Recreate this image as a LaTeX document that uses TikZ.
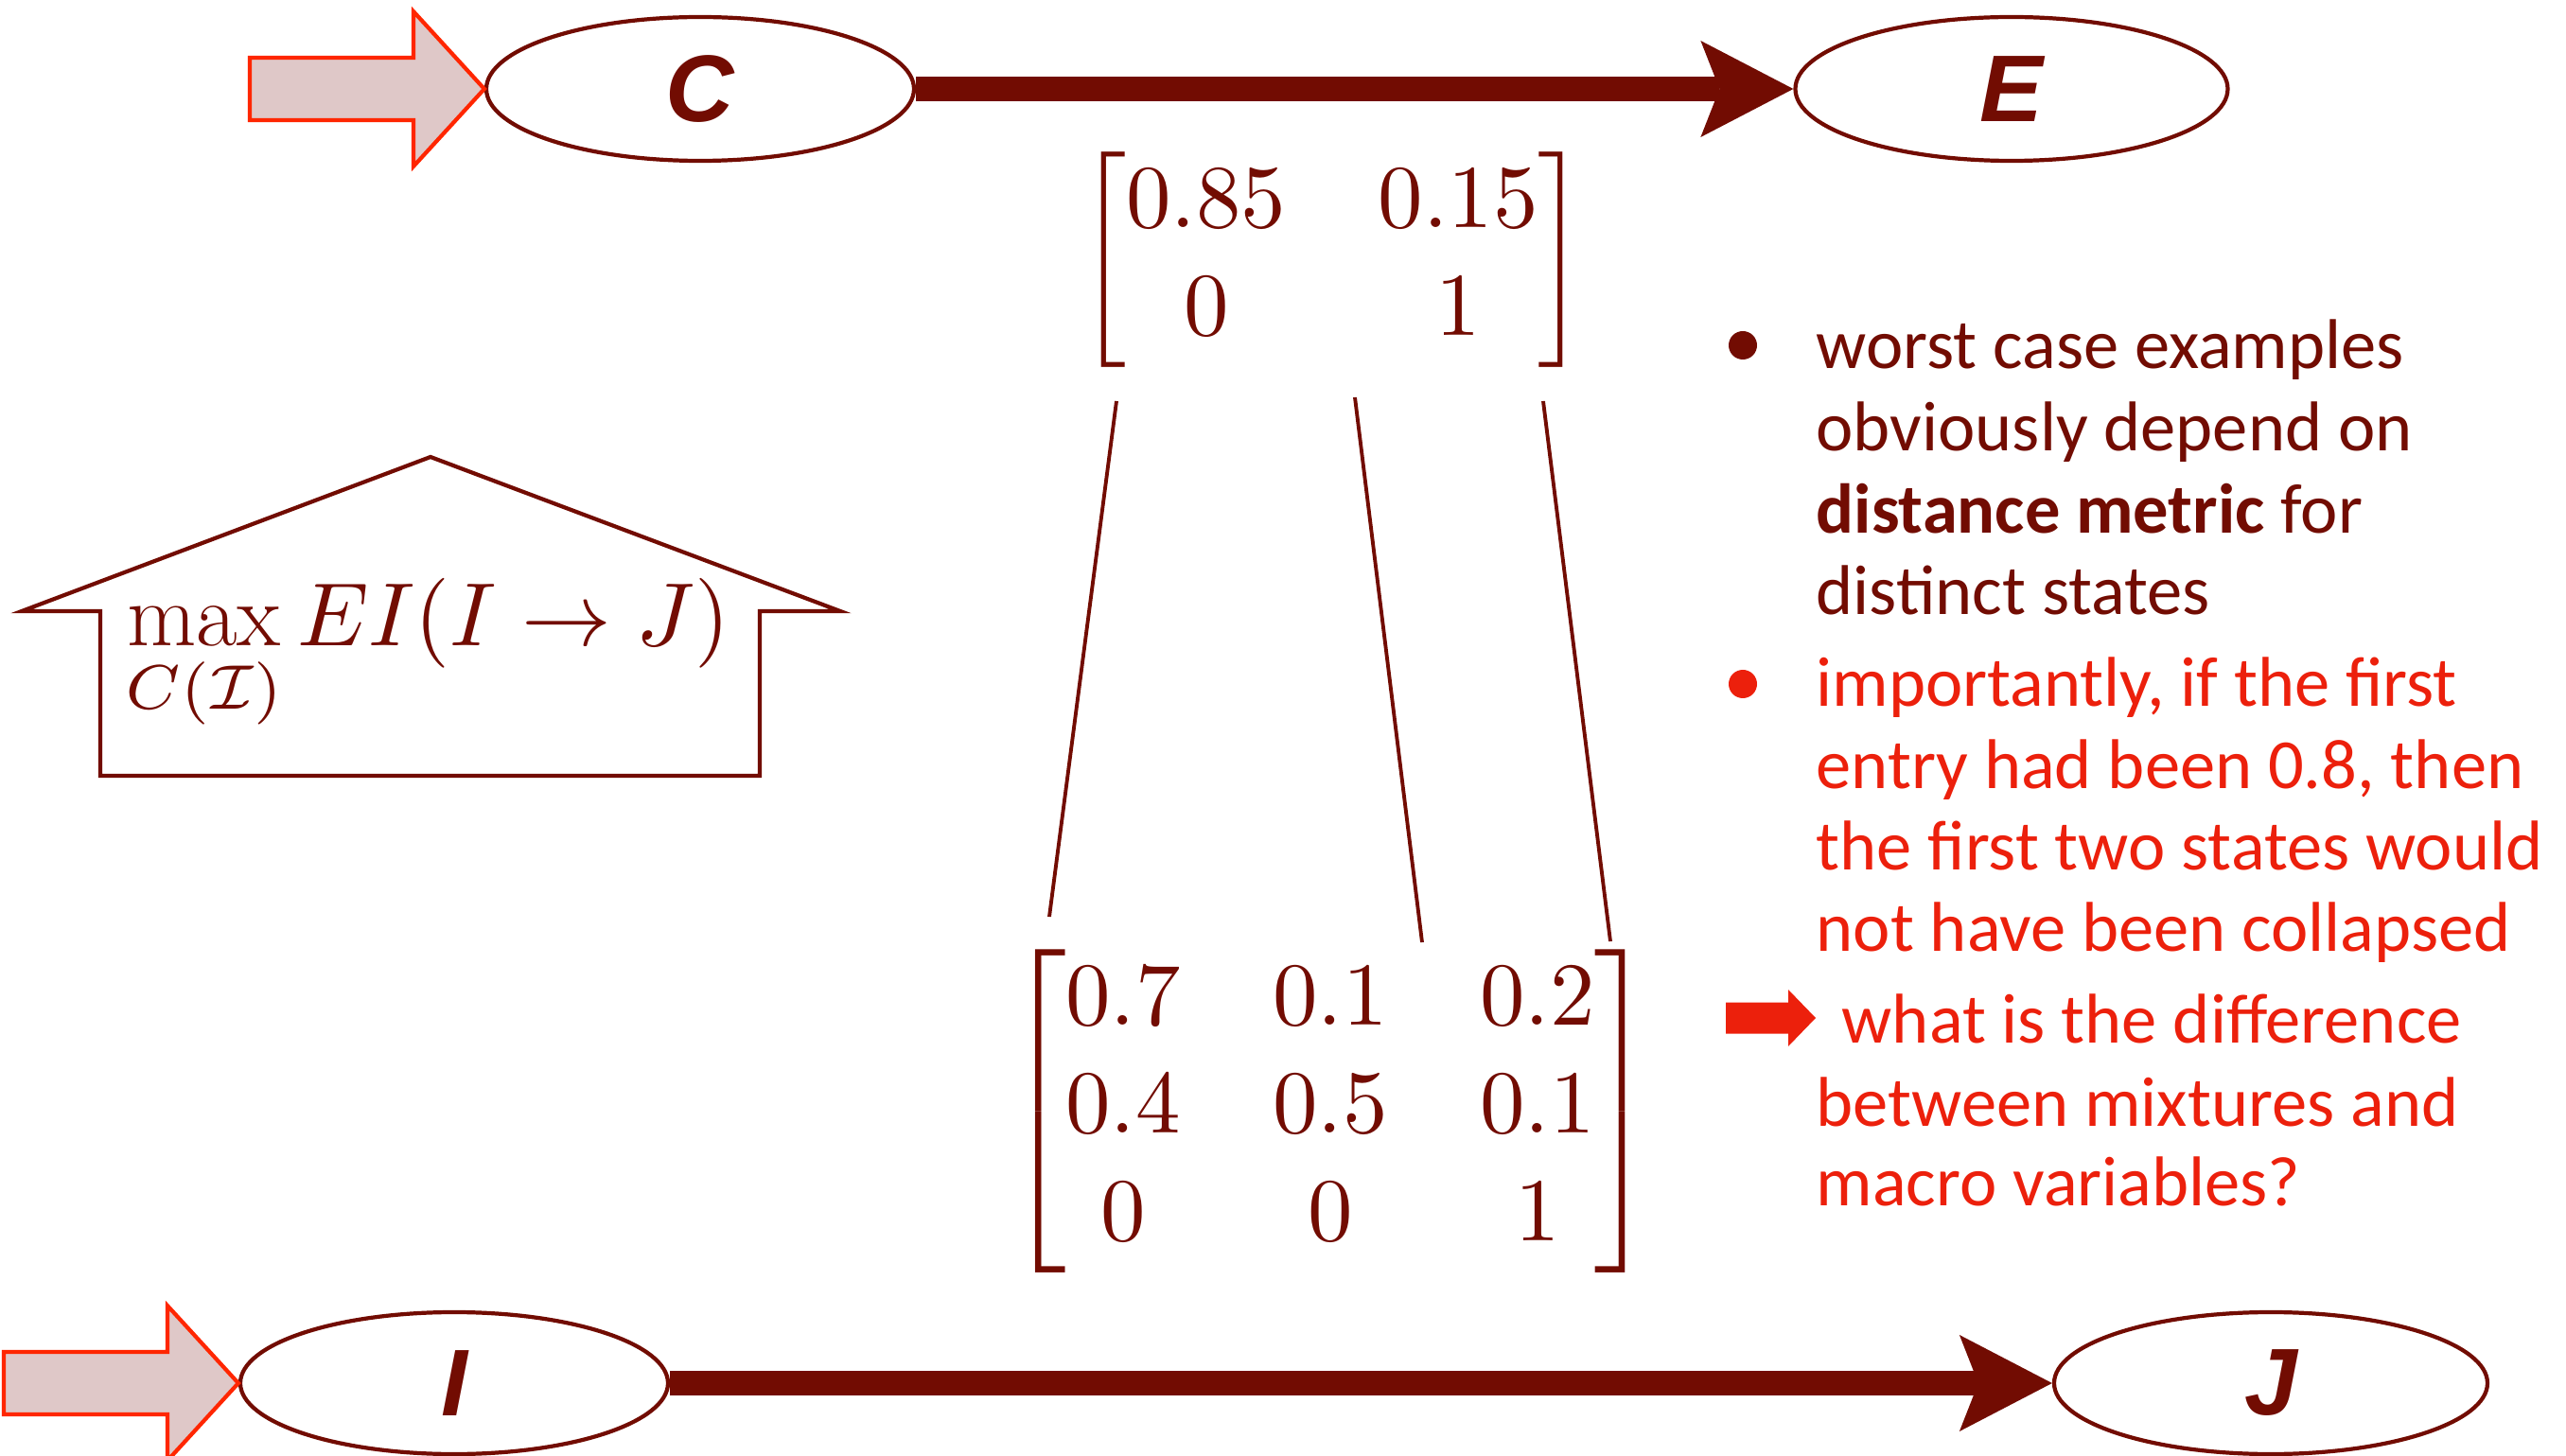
\documentclass[tikz,border=0pt]{standalone}
\usepackage{amsmath,amssymb}
\usepackage{fontspec}
\DeclareFontShape{OT1}{cmr}{m}{n}{<-20> cmr7 <20-> cmr10}{}
\DeclareFontShape{OML}{cmm}{m}{it}{<-20> cmmi7 <20-> cmmi10}{}
\DeclareFontShape{OMS}{cmsy}{m}{n}{<-20> cmsy7 <20-> cmsy10}{}
\DeclareFontShape{OMX}{cmex}{m}{n}{<-> cmex10}{}
\newfontfamily\bodyfont{Carlito}
\newfontfamily\statefont{Liberation Sans}
\usepackage{tikz}
\usetikzlibrary{positioning,arrows.meta,shapes.geometric}
\definecolor{slidered}{RGB}{114,12,2}
\definecolor{alertred}{RGB}{236,32,12}
\definecolor{inred}{RGB}{255,38,0}
\definecolor{infill}{RGB}{223,200,200}

\tikzset{
  stateell/.style={ellipse,draw=slidered,line width=1.2pt,fill=white,inner sep=0pt,
    minimum width=4.52cm,minimum height=1.52cm,text=slidered,
    font=\statefont\bfseries\itshape\fontsize{28.5}{30}\selectfont},
  inarrow/.style={draw=inred,fill=infill,line width=1.2pt},
  flowarrow/.style={draw=slidered,line width=0.26cm,
    -{Stealth[length=0.98cm,width=1.02cm,inset=0.2cm,line width=0pt]}},
  mapline/.style={draw=slidered,line width=1.1pt},
  houseline/.style={draw=slidered,line width=1.2pt},
  matnode/.style={inner sep=0pt,text=slidered,font=\fontsize{27}{32.4}\selectfont},
  txt/.style={anchor=base west,inner sep=0pt,font=\bodyfont\fontsize{21.2}{25}\selectfont},
  dot/.style={circle,inner sep=0pt,minimum size=0.3cm}
}

\begin{document}
\begin{tikzpicture}
  \useasboundingbox (0,0) rectangle (27.12,-15.39);
  % states and transitions
  \node[stateell] (C) at (7.40,-0.94) {C};
  \node[stateell,minimum width=4.57cm] (E) at (21.26,-0.94) {E};
  \node[stateell,minimum height=1.50cm] (I) at (4.80,-14.62) {I};
  \node[stateell,minimum width=4.58cm,minimum height=1.50cm] (J) at (24.00,-14.62) {J};
  \draw[flowarrow] (C) -- (E);
  \draw[flowarrow] (I) -- (J);
  % input block arrows
  \foreach \s in {C,I}{
    \draw[inarrow] (\s.west) -- ++(-0.75,0.82) -- ++(0,-0.49) -- ++(-1.73,0)
      -- ++(0,-0.66) -- ++(1.73,0) -- ++(0,-0.49) -- cycle;}
  % transition matrices
  \node[matnode] (upper) at (14.08,-2.75)
    {$\setlength\arraycolsep{13.9pt}\begin{bmatrix}0.85 & 0.15\\ 0 & 1\end{bmatrix}$};
  \node[matnode] (lower) at (14.06,-11.75)
    {$\setlength\arraycolsep{13.9pt}\begin{bmatrix}0.7 & 0.1 & 0.2\\ 0.4 & 0.5 & 0.1\\ 0 & 0 & 1\end{bmatrix}$};
  \coordinate (u1) at (11.80,-4.24);
  \coordinate (u2) at (14.32,-4.20);
  \coordinate (u3) at (16.31,-4.24);
  \coordinate (d1) at (11.09,-9.69);
  \coordinate (d2) at (15.03,-9.96);
  \coordinate (d3) at (17.02,-9.95);
  \foreach \k in {1,2,3}{
    \draw[mapline] (u\k) -- (d\k);}
  % house with objective
  \draw[houseline] (4.55,-4.83) -- (8.88,-6.46) -- (8.03,-6.46) -- (8.03,-8.20)
    -- (1.06,-8.20) -- (1.06,-6.46) -- (0.23,-6.46) -- cycle;
  \node[matnode,anchor=base west] (ei) at (1.32,-6.83)
    {$\displaystyle\max_{C(\mathcal{I})} EI(I\to J)$};
  % remarks
  \node[dot,fill=slidered] (b1) at (18.42,-3.65) {};
  \node[dot,fill=alertred] (b2) at (18.42,-7.23) {};
  \foreach \t [count=\i from 0] in {worst case examples, obviously depend on,
    {\textbf{distance metric} for}, distinct states}{
    \node[txt,text=slidered] (pa\i) at (19.19,{-3.90-0.866*\i}) {\t};}
  \foreach \t [count=\i from 0] in {{importantly, if the first}, {entry had been 0.8, then},
    the first two states would, not have been collapsed}{
    \node[txt,text=alertred] (pb\i) at (19.19,{-7.47-0.863*\i}) {\t};}
  \fill[alertred] (18.24,-10.595) -- (18.90,-10.595) -- (18.90,-10.46) -- (19.19,-10.76)
    -- (18.90,-11.06) -- (18.90,-10.925) -- (18.24,-10.925) -- cycle;
  \node[txt,text=alertred] (pc0) at (19.46,-11.03) {what is the difference};
  \node[txt,text=alertred] (pc1) at (19.19,-11.90) {between mixtures and};
  \node[txt,text=alertred] (pc2) at (19.19,-12.74) {macro variables?};
\end{tikzpicture}
\end{document}
